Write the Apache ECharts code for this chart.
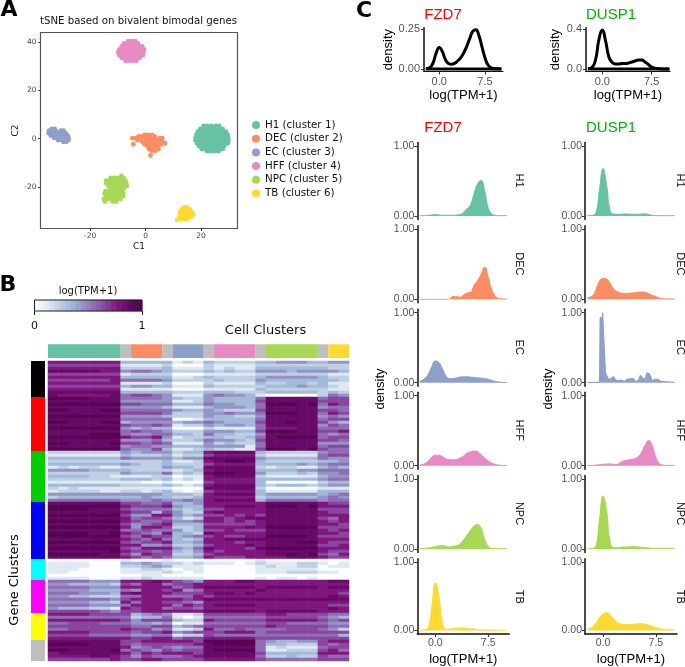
<!DOCTYPE html>
<html><head><meta charset="utf-8">
<style>html,body{margin:0;padding:0;background:#fff}#c{width:685px;height:667px}</style>
<script src="https://cdn.jsdelivr.net/npm/echarts@6/dist/echarts.min.js"></script>
</head><body><div id="c"></div>
<script>
const clusterNames=['H1','DEC','EC','HFF','NPC','TB'];
const clusterColors=['#66c2a5','#fc8d62','#8da0cb','#e78ac3','#a6d854','#ffd92f'];
const legendNames=['H1 (cluster 1)','DEC (cluster 2)','EC (cluster 3)','HFF (cluster 4)','NPC (cluster 5)','TB (cluster 6)'];

// tSNE points, rows of [C2,[C1...]]
const tsneH1=[[5.3,[21,22.4,23.8,25.3,26.6]],[4.1,[19.8,21.2,22.6,23.9,25.2,26.5,27.8]],[2.9,[18.9,20.2,21.5,22.9,24.2,25.6,26.9,28.1,29]],[1.7,[18.4,19.7,21,22.3,23.6,24.9,26.2,27.5,28.8,29.6]],[0.5,[18.1,19.4,20.7,22,23.3,24.6,25.9,27.2,28.5,29.8]],[-0.7,[18,19.3,20.6,21.9,23.2,24.5,25.8,27.1,28.4,29.9]],[-1.9,[18.6,19.9,21.2,22.5,23.8,25.1,26.4,27.7,29,29.7]],[-3.1,[19.3,20.6,21.9,23.2,24.5,25.8,27.1,28.4]],[-4.3,[20.3,21.6,22.9,24.2,25.5,26.8,27.9]],[-5.2,[22.2,23.6,25,26.3]]];
const tsneDEC=[[1.6,[-0.3,0.9,2.4]],[0.9,[-2.5,-1.3,-0.2,1,2.2,3.3]],[0.2,[-4.7,-3.4,-2.4,-1.2,0,1.2,2.4,3.6,5.2,6]],[-0.6,[-2.9,-1.5,-0.3,0.9,2.1,3.3,4.5,5.6]],[-1.5,[-1,0.2,1.4,2.6,3.8,5,6]],[-1.9,[7]],[-2.3,[-4.4]],[-2.4,[-0.3,0.9,2.1,3.3,4.5,5.5]],[-3.3,[0.8,2,3.2,4.4]],[-4.3,[1.3,2.4,3.5,4.7]],[-5,[2.3,3.5]],[-7,[1.8]]];
const tsneEC=[[4,[-33.8,-32.8]],[3.3,[-34.8,-33.6,-32.4,-30.6,-29.6]],[2.3,[-35,-33.9,-32.8,-31.7,-30.6,-29.5,-28.8]],[1.3,[-34.2,-33.1,-32,-30.9,-29.8,-28.7,-28.1]],[0.3,[-33,-31.9,-30.8,-29.7,-28.6,-27.8]],[-0.6,[-31.6,-30.5,-29.4,-28.3,-27.8]],[-1.3,[-29.6,-28.6]]];
const tsneHFF=[[40.5,[-6.3,-5,-3.7]],[39.5,[-7.8,-6.5,-5.2,-3.9,-2.7]],[38.3,[-8.6,-7.3,-6,-4.7,-3.4,-2.1,-1.2]],[37.1,[-9.4,-8.1,-6.8,-5.5,-4.2,-2.9,-1.6,-0.6]],[35.9,[-9.8,-8.5,-7.2,-5.9,-4.6,-3.3,-2,-0.8]],[34.7,[-9.5,-8.2,-6.9,-5.6,-4.3,-3,-1.7,-0.9]],[33.5,[-8.6,-7.3,-6,-4.7,-3.4,-2.1]],[32.3,[-7.2,-5.9,-4.6,-3.3]]];
const tsneNPC=[[-15.5,[-8.7]],[-16.3,[-12.6,-11.4,-10.2,-9,-7.9]],[-17.4,[-14.2,-13,-11.8,-10.6,-9.4,-8.2,-7.3]],[-18.5,[-14.2,-13,-11.8,-10.6,-9.4,-8.2,-7]],[-19.6,[-13.4,-12.2,-11,-9.8,-8.6,-7.4,-6.7]],[-20.7,[-12.6,-11.4,-10.2,-9,-7.8]],[-21.8,[-14.4,-13.2,-12,-10.8,-9.6,-8.4]],[-22.9,[-14.8,-13.6,-12.4,-11.2,-10,-8.8,-8]],[-24,[-14,-12.8,-11.6,-10.4,-9.2,-8.2]],[-25,[-15,-13.8,-12.6,-11.4,-10.2,-9]],[-26.1,[-14.7,-11.8,-10.6]]];
const tsneTB=[[-28.5,[14,15]],[-29.4,[13,14,15,16]],[-30.4,[12.5,13.5,14.5,15.5,16.5]],[-31.4,[12.6,13.6,14.6,15.6,16.8,17.3]],[-32.4,[12.3,13.3,14.3,15.3,16.3]],[-33.3,[12.9,13.9,14.9]],[-33.8,[11.4]]];
const tsneAll=[tsneH1,tsneDEC,tsneEC,tsneHFF,tsneNPC,tsneTB];

// Heatmap: digit 0..9 per column (H1, gap, DEC, gap, EC, gap, HFF, gap, NPC, gap, TB), one string per gene row
const heatRows=[
"7777777 3 333 3 121 3 2222 3 34443 3 44","6666666 1 111 2 000 2 1111 2 22222 2 22","7777777 2 222 3 111 2 1211 3 33333 3 22","8888877 4 554 3 222 3 2322 4 44344 4 43","6666666 1 222 2 000 1 1111 2 22222 2 11","7777777 3 333 3 112 3 2222 3 44444 3 22","6666667 5 555 4 222 2 3222 4 33333 3 32","7777777 1 111 2 000 2 1111 3 22332 3 11","6666666 3 443 3 111 3 2222 2 33343 3 21","7777777 1 111 1 000 1 1111 3 22222 2 11","8888888 3 333 3 222 3 3322 2 33333 2 32","8777778 5 665 4 111 4 5443 1 00000 2 54",
"9999888 5 555 4 322 4 3333 5 88888 5 66","8888888 4 444 4 112 4 3333 6 88888 6 66","9999999 6 655 5 333 5 4433 5 99989 5 76","8888888 4 444 3 111 3 4443 5 88888 4 55","9988899 5 555 5 433 4 3222 6 88888 6 65","8888888 6 666 5 222 4 4544 5 99988 5 76","9999999 4 444 3 222 4 3322 4 88888 4 54","8888888 5 555 5 001 3 3333 5 88888 5 66","9988899 3 444 4 344 5 4333 6 88988 6 43","8888888 6 556 5 122 4 3443 5 88888 4 65","9999999 4 343 3 000 2 1111 5 77788 5 55","8888888 5 655 4 222 4 4433 6 99988 6 67","8888999 5 445 5 332 5 3322 4 88888 5 45","9999999 7 667 4 122 3 3223 5 89999 5 66","8888888 4 445 3 223 5 4432 6 88888 6 65","9988889 6 656 5 111 4 2322 5 88888 4 44","8888888 4 554 4 333 4 4441 5 88888 5 66","9999999 5 446 3 112 3 2211 6 99989 6 55",
"2222222 4 344 4 233 7 8888 3 22222 4 55","1111111 3 222 3 122 6 7777 2 11111 5 66","3333333 5 444 4 344 8 8888 4 33333 5 44","2222222 2 222 3 112 7 8998 3 22222 3 34","3333333 4 322 3 222 6 7777 3 33343 4 55","1212211 2 222 4 332 8 8888 2 12211 3 43","4444333 3 222 2 123 7 8888 3 33344 5 55","2222222 4 333 5 232 8 9988 4 22232 4 45","3333221 1 112 2 011 7 8888 2 11111 3 44","2222222 3 332 3 121 7 7777 3 33333 4 55","1111111 1 100 1 000 6 7777 3 00000 2 33","3333333 2 222 3 212 7 8888 3 23332 3 44","2121111 1 111 1 000 8 8888 2 00000 1 11","1222211 2 212 3 101 6 7777 3 11111 3 33","4444444 4 444 3 332 7 8888 3 44444 3 45","2333333 3 343 3 223 7 7777 2 33333 4 54","5555555 4 445 4 454 7 8888 3 55555 4 55",
"8888888 6 655 6 334 7 7777 7 88888 7 66","9999999 7 666 7 433 7 7888 7 99989 7 77","9999888 6 555 5 323 6 6777 7 88888 6 66","8888888 7 663 6 422 7 8777 7 88888 7 66","9999999 6 447 7 434 6 6767 6 88888 7 77","8888888 7 566 5 312 7 7678 8 88888 6 57","9999999 7 655 6 445 7 7676 7 88888 7 67","8888888 6 456 7 333 6 6666 7 88888 7 76","9999999 7 477 6 223 7 7778 7 99999 6 66","8888888 5 565 5 423 6 6766 6 88888 7 67","9999889 7 654 7 332 8 7777 7 88888 7 76","9999999 6 576 6 345 6 7667 7 99998 6 66","8888888 7 657 5 323 7 7888 8 88888 7 77","9999999 6 566 7 334 7 7767 7 88899 7 66","8888888 7 744 5 223 6 7778 7 88888 6 67","9999999 6 577 7 435 8 7776 8 99999 7 77","8888889 7 665 6 324 7 6777 7 88888 7 66","9999988 6 476 6 223 6 7777 7 88989 6 57","8888888 7 656 5 334 7 6667 7 77888 7 66",
"0000000 1 000 1 000 0 0000 1 00000 0 00","1111000 3 343 2 212 1 1101 2 11122 1 01","1111000 2 234 3 111 0 0000 1 21122 0 11","1110000 1 122 1 011 0 0000 1 11111 0 00","1100000 1 111 2 101 0 0000 1 11222 1 10","0000000 0 011 0 000 0 0000 0 00000 0 00","1111000 1 121 1 111 0 0000 1 01101 0 00",
"5555444 7 778 7 654 7 7788 7 77777 7 88","4433332 6 577 5 667 7 7777 7 77777 7 77","5555444 7 777 7 567 8 8888 7 88888 7 88","4444333 5 477 6 745 7 7777 8 77777 7 77","5554443 7 877 7 666 7 8878 7 77777 7 76","4433222 5 577 5 557 6 7777 7 77777 7 87","5555554 6 777 7 767 8 8888 8 88888 8 88","4444332 7 577 6 654 7 7777 7 77777 7 77","5555444 5 777 7 576 7 8888 7 77777 7 66","4333221 7 677 5 665 7 7777 7 77777 7 87","6666654 6 677 7 777 8 8888 7 88888 7 77",
"7777666 6 345 4 112 6 6666 6 77666 6 55","5555555 5 233 5 101 5 5555 5 66666 5 43","7777777 6 466 6 322 7 6666 6 77777 6 56","5566655 5 443 4 011 5 5555 5 66555 5 44","6666666 6 556 6 345 6 6666 6 76666 6 55","5566666 7 664 5 112 7 5565 5 55666 5 42","7777666 6 566 7 456 6 6777 5 66666 6 66","6666555 5 445 5 122 6 5555 5 55555 5 53","7777777 7 667 7 566 7 7777 6 66666 6 66",
"8888888 6 677 7 776 9 9999 5 43344 6 77","9999888 6 566 6 667 8 9999 5 33222 6 56","8888888 7 456 5 455 8 8888 5 12111 5 66","9988889 5 654 6 566 8 9999 5 11222 6 75","7888888 7 576 7 776 8 8888 6 33333 7 77","7777887 6 465 5 567 8 8888 5 22322 6 55","6666667 6 677 6 666 7 7777 6 55555 6 66"];
const heatColors=['#fbfdfe','#dfe9f2','#bfd0e4','#a3b9d8','#9494c6','#8f6eb3','#8a45a0','#80177e','#680a68','#560354'];
const annotSizes=[7,1,3,1,3,1,4,1,5,1,2];
const annotColors=['#66c2a5','#bebebe','#fc8d62','#bebebe','#8da0cb','#bebebe','#e78ac3','#bebebe','#a6d854','#bebebe','#ffd92f'];
const geneSizes=[12,18,17,19,7,11,9,7];
const geneColors=['#000000','#ff0000','#00cd00','#0000ff','#00ffff','#ff00ff','#ffff00','#bebebe'];
const colorbarValues=[0,.05,.1,.15,.2,.25,.3,.35,.4,.45,.5,.55,.6,.65,.7,.75,.8,.85,.9,.95,1];

// Densities
const densX=[-2.2,-1.5,-1,-0.5,0,0.5,1,1.5,2,2.5,3,3.5,4,4.5,5,5.5,6,6.5,7,7.5,8,8.5,9,9.5,10.2];
const topFZD7=[.002,.01,.04,.1,.135,.11,.06,.035,.03,.035,.05,.07,.1,.14,.19,.235,.245,.21,.14,.07,.025,.008,.002,.001,0];
const topDUSP1=[.002,.02,.1,.3,.39,.28,.12,.065,.05,.05,.055,.055,.06,.07,.08,.09,.09,.07,.045,.02,.008,.003,.001,0,0];
const fzd7H1=[.005,.005,.01,.015,.02,.015,.01,.01,.01,.01,.015,.02,.05,.1,.16,.32,.46,.51,.36,.12,.03,.01,.005,.005,.005];
const fzd7DEC=[0,0,0,0,0,0,0,0,.005,.04,.04,.03,.06,.09,.1,.2,.27,.36,.46,.32,.14,.05,.015,.005,.002];
const fzd7EC=[.02,.06,.12,.23,.31,.29,.2,.1,.06,.06,.07,.08,.085,.085,.08,.075,.07,.065,.06,.05,.035,.02,.01,.005,.003];
const fzd7HFF=[.01,.03,.07,.12,.15,.15,.13,.1,.09,.085,.09,.11,.14,.18,.2,.21,.2,.16,.11,.07,.04,.02,.01,.005,.002];
const fzd7NPC=[.005,.01,.015,.025,.035,.045,.05,.04,.03,.04,.05,.07,.13,.2,.27,.33,.35,.3,.14,.04,.01,.01,.005,.005,.005];
const fzd7TB=[.005,.01,.04,.35,.7,.5,.12,.02,.02,.03,.035,.04,.04,.03,.03,.025,.015,.01,.01,.01,.01,.01,.005,.005,.005];
const dusp1H1=[.005,.01,.05,.38,.68,.45,.08,.03,.025,.025,.03,.03,.025,.025,.025,.03,.03,.02,.01,.005,.005,.005,.005,.005,.005];
const dusp1DEC=[.02,.05,.14,.26,.3,.29,.23,.15,.11,.09,.085,.085,.09,.095,.1,.105,.1,.08,.06,.04,.02,.01,.005,.005,.003];
const dusp1ECx=[-2.2,-0.5,-0.42,-0.1,-0.05,0.2,0.35,0.7,1,1.5,1.8,2.2,2.6,3,3.4,3.9,4.3,4.6,5,5.3,5.7,6,6.2,6.6,7,7.3,7.8,8.2,10.2];
const dusp1EC=[.005,.005,.93,.93,1,1,.15,.06,.05,.09,.04,.03,.04,.02,.05,.06,.06,.02,.03,.11,.06,.05,.14,.13,.03,.05,.05,.02,.005];
const dusp1HFF=[.005,.005,.01,.015,.02,.025,.025,.02,.02,.05,.07,.08,.09,.1,.13,.2,.3,.36,.28,.12,.03,.01,.005,.005,.005];
const dusp1NPC=[.005,.01,.04,.42,.76,.55,.1,.02,.02,.025,.03,.03,.035,.035,.03,.025,.02,.015,.01,.01,.01,.01,.01,.01,.01];
const dusp1TB=[.02,.05,.11,.19,.24,.26,.23,.17,.12,.1,.09,.09,.09,.095,.1,.1,.095,.08,.06,.045,.03,.02,.015,.01,.01];
const fzd7Panels=[fzd7H1,fzd7DEC,fzd7EC,fzd7HFF,fzd7NPC,fzd7TB];
const dusp1Panels=[dusp1H1,dusp1DEC,dusp1EC,dusp1HFF,dusp1NPC,dusp1TB];

const SANS='"Liberation Sans",Arial,sans-serif', DJ='"DejaVu Sans",sans-serif';
const zip=(a,b)=>a.map((v,i)=>[v,b[i]]);
const grids=[],xAxes=[],yAxes=[],series=[],graphics=[];
function addGrid(g,x,y){grids.push(g);const i=grids.length-1;
  const xs=Array.isArray(x)?x:[x];
  const xi=xs.map(a=>{xAxes.push(Object.assign({gridIndex:i},a));return xAxes.length-1;});
  yAxes.push(Object.assign({gridIndex:i},y));
  return {x:xi[0],y:yAxes.length-1};}
function txt(text,x,y,font,fill,rot){graphics.push({type:'text',x,y,rotation:rot||0,silent:true,
  style:{text,font,fill:fill||'#000',align:'center',verticalAlign:'middle'}});}
const hiddenCat=d=>({type:'category',data:d,show:false,boundaryGap:true});

// A: tSNE
const axA=addGrid({left:40.5,top:32.5,width:197,height:196,show:true,borderColor:'#555',borderWidth:1.2,backgroundColor:'#fff'},
 {type:'value',min:-37.9,max:33.2,name:'C1',nameLocation:'middle',nameGap:14,nameTextStyle:{fontSize:9,fontFamily:DJ,color:'#222'},
  splitLine:{show:false},axisLine:{show:false,onZero:false},axisTick:{show:true,length:2.5,lineStyle:{color:'#444'},customValues:[-20,0,20]},
  axisLabel:{customValues:[-20,0,20],fontSize:7.5,fontFamily:DJ,color:'#444',margin:4}},
 {type:'value',min:-37.3,max:44.07,name:'C2',nameLocation:'middle',nameGap:18,nameTextStyle:{fontSize:9,fontFamily:DJ,color:'#222'},
  splitLine:{show:false},axisLine:{show:false,onZero:false},axisTick:{show:true,length:2.5,lineStyle:{color:'#444'},customValues:[-20,0,20,40]},
  axisLabel:{customValues:[-20,0,20,40],fontSize:7.5,fontFamily:DJ,color:'#444',margin:4}});
tsneAll.forEach((rows,i)=>{
  const data=[];rows.forEach(r=>r[1].forEach(x=>data.push([x,r[0]])));
  series.push({type:'scatter',name:legendNames[i],xAxisIndex:axA.x,yAxisIndex:axA.y,data,symbolSize:4.8,itemStyle:{color:clusterColors[i],opacity:1},silent:true});
});

// B: colorbar
const cbIdx=colorbarValues.map(String);
const axCB=addGrid({left:34.5,top:300,width:107.5,height:11,show:true,borderColor:'#222',borderWidth:1,z:3},
 [hiddenCat(cbIdx),{type:'value',min:0,max:1,position:'bottom',splitLine:{show:false},axisLine:{show:false,onZero:false},
   axisTick:{show:true,length:4,inside:false,lineStyle:{color:'#222'},customValues:[0,1]},
   axisLabel:{customValues:[0,1],fontSize:11,fontFamily:DJ,color:'#111',margin:10}}],
 hiddenCat(['a']));
const cbSeriesIndex=series.length;
series.push({type:'heatmap',xAxisIndex:axCB.x,yAxisIndex:axCB.y,data:colorbarValues.map((v,i)=>[i,0,v]),silent:true});
txt('log(TPM+1)',88,291.5,'10px '+DJ,'#111');
txt('Cell Clusters',265.5,331,'13px '+DJ,'#111');
txt('Gene Clusters',15,580,'13px '+DJ,'#000',Math.PI/2);

// B: column annotation
const axAn=addGrid({left:48,top:344.3,width:301,height:13.7},
 {type:'value',min:0,max:29,show:false},hiddenCat(['cells']));
annotSizes.forEach((s,i)=>series.push({type:'bar',stack:'annot',xAxisIndex:axAn.x,yAxisIndex:axAn.y,barWidth:'100%',data:[s],itemStyle:{color:annotColors[i]},silent:true}));
// B: gene annotation
const axGn=addGrid({left:31,top:361,width:14,height:300},
 hiddenCat(['genes']),{type:'value',min:0,max:100,inverse:true,show:false});
geneSizes.forEach((s,i)=>series.push({type:'bar',stack:'genes',xAxisIndex:axGn.x,yAxisIndex:axGn.y,barWidth:'100%',data:[s],itemStyle:{color:geneColors[i]},silent:true}));
// B: heatmap
const clean=heatRows.map(r=>r.replace(/ /g,''));
const colIdx=clean[0].split('').map((_,i)=>String(i));
const rowIdx=clean.map((_,i)=>String(i));
const axH=addGrid({left:48,top:361,width:301,height:300},hiddenCat(colIdx),Object.assign(hiddenCat(rowIdx),{inverse:true}));
const heatSeriesIndex=series.length;
const heatData=[];clean.forEach((r,j)=>r.split('').forEach((d,i)=>heatData.push([i,j,+d/9])));
series.push({type:'heatmap',xAxisIndex:axH.x,yAxisIndex:axH.y,data:heatData,silent:true,progressive:0});

// C: top densities
function topPanel(values,left,width,xmin,xmax,ymax,ymin,ticks,dec){
 const ax=addGrid({left,top:27.7,width,height:43.8},
  {type:'value',min:xmin,max:xmax,name:'log(TPM+1)',nameLocation:'middle',nameGap:17,nameTextStyle:{fontSize:13,fontFamily:SANS,color:'#000'},
   splitLine:{show:false},axisLine:{show:true,onZero:false,lineStyle:{color:'#111',width:1.2}},axisTick:{show:true,length:3,lineStyle:{color:'#333'},customValues:[0,7.5]},
   axisLabel:{customValues:[0,7.5],formatter:v=>v.toFixed(1),fontSize:11,fontFamily:SANS,color:'#555',margin:5}},
  {type:'value',min:ymin,max:ymax,name:'density',nameLocation:'middle',nameGap:dec==2?28:24,nameTextStyle:{fontSize:13,fontFamily:SANS,color:'#000'},
   splitLine:{show:false},axisLine:{show:true,onZero:false,lineStyle:{color:'#111',width:1.5}},axisTick:{show:true,length:3,lineStyle:{color:'#333'},customValues:ticks},
   axisLabel:{customValues:ticks,formatter:v=>v.toFixed(dec),fontSize:11,fontFamily:SANS,color:'#555',margin:4}});
 const line=zip(densX,values);
 series.push({type:'line',xAxisIndex:ax.x,yAxisIndex:ax.y,data:[[densX[0],0],[densX[densX.length-1],0]],showSymbol:false,lineStyle:{color:'#000',width:3},silent:true});
 series.push({type:'line',xAxisIndex:ax.x,yAxisIndex:ax.y,data:line,smooth:0.5,showSymbol:false,lineStyle:{color:'#000',width:3},silent:true});
}
topPanel(topFZD7,424,79,-2.5,10.46,.258,-.0156,[0,.25],2);
topPanel(topDUSP1,586,84,-2.48,10.29,.413,-.025,[0,.4],1);

// C: facets
const facetTops=[142.5,225.8,309.2,392.2,475.5,558.8];
function facets(panels,left,width,stripX,densityX){
 panels.forEach((vals,i)=>{
  const last=i===panels.length-1;
  const ax=addGrid({left,top:facetTops[i],width,height:77},
   {type:'value',min:-2.56,max:10.5,show:last,name:'log(TPM+1)',nameLocation:'middle',nameGap:19,nameTextStyle:{fontSize:13,fontFamily:SANS,color:'#000'},
    splitLine:{show:false},axisLine:{show:true,onZero:false,lineStyle:{color:'#111',width:1.5}},axisTick:{show:true,length:3,lineStyle:{color:'#333'},customValues:[0,7.5]},
    axisLabel:{customValues:[0,7.5],formatter:v=>v.toFixed(1),fontSize:10.5,fontFamily:SANS,color:'#555',margin:4}},
   {type:'value',min:-0.05,max:1.05,splitLine:{show:false},axisLine:{show:true,onZero:false,lineStyle:{color:'#111',width:1.5}},
    axisTick:{show:true,length:3,lineStyle:{color:'#333'},customValues:[0,1]},
    axisLabel:{customValues:[0,1],formatter:v=>v.toFixed(2),fontSize:10.5,fontFamily:SANS,color:'#555',margin:3}});
  const spiky=vals===dusp1EC;
  series.push({type:'line',name:clusterNames[i],xAxisIndex:ax.x,yAxisIndex:ax.y,data:zip(spiky?dusp1ECx:densX,vals),
    smooth:spiky?false:0.5,showSymbol:false,silent:true,
    lineStyle:{color:clusterColors[i],width:1},itemStyle:{color:clusterColors[i]},areaStyle:{color:clusterColors[i],opacity:1}});
  txt(clusterNames[i],stripX,facetTops[i]+38,'11px '+SANS,'#111',-Math.PI/2);
 });
 txt('density',densityX,389,'13px '+SANS,'#000',Math.PI/2);
}
facets(fzd7Panels,417.3,92,519,380.5);
facets(dusp1Panels,585,92,680,548);

// C: titles
txt('FZD7',443,14.5,'15px '+SANS,'#ff0000');
txt('DUSP1',611,14.5,'15px '+SANS,'#00b400');
txt('FZD7',443,128,'15px '+SANS,'#ff0000');
txt('DUSP1',611,128,'15px '+SANS,'#00b400');
// panel letters
txt('A',9,10,'bold 22px '+DJ,'#000');
txt('B',8,285,'bold 22px '+DJ,'#000');
txt('C',364,11,'bold 22px '+DJ,'#000');

const chart=echarts.init(document.getElementById('c'),null,{renderer:'canvas'});
chart.setOption({
 animation:false,backgroundColor:'#fff',
 title:{text:'tSNE based on bivalent bimodal genes',left:40,top:16,padding:0,textStyle:{fontFamily:DJ,fontSize:10.2,fontWeight:'normal',color:'#111'}},
 legend:{data:legendNames,orient:'vertical',left:247,top:115,icon:'circle',itemWidth:8,itemHeight:8,itemGap:3.7,selectedMode:false,
   textStyle:{fontFamily:DJ,fontSize:10.3,color:'#111',padding:[0,0,0,0]}},
 visualMap:{show:false,type:'continuous',min:0,max:1,seriesIndex:[cbSeriesIndex,heatSeriesIndex],dimension:2,inRange:{color:heatColors}},
 grid:grids,xAxis:xAxes,yAxis:yAxes,series,graphic:graphics
});
</script></body></html>
